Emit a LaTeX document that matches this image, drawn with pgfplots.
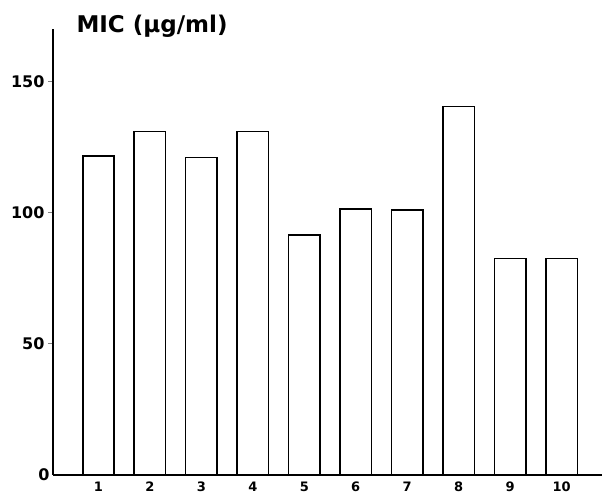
\documentclass[border=0pt]{standalone}
\usepackage{fontspec}
\setmainfont{DejaVu Sans}
\usepackage{pgfplots}
\pgfplotsset{compat=1.18}
\begin{document}
\begin{tikzpicture}
\useasboundingbox (-53pt,-19pt) rectangle (549pt,475pt);
\begin{axis}[
  at={(0pt,0pt)}, anchor=south west,
  scale only axis, width=549pt, height=446pt,
  xmin=0.116, xmax=10.786, ymin=0, ymax=170,
  axis x line*=bottom, axis y line*=left,
  axis line style={line width=1.6pt},
  xtick={1,...,10}, xtick style={draw=none},
  ytick={50,100,150},
  extra y ticks={0}, extra y tick style={major tick length=0pt},
  tick align=outside, major tick length=5pt,
  ytick style={line width=1.2pt},
  yticklabel style={font=\fontsize{16}{16}\selectfont\bfseries},
  xticklabel style={font=\fontsize{13}{13}\selectfont\bfseries, inner sep=0.5pt, yshift=-1pt},
  /pgf/number format/assume math mode=true,
  ybar, bar width=31.5pt,
]
\addplot[draw=black, fill=white, line width=1.6pt] coordinates {
  (1,121.5) (2,131) (3,121) (4,131) (5,91.5)
  (6,101.5) (7,101) (8,140.5) (9,82.5) (10,82.5)
};
\end{axis}
\node[anchor=base west, font=\fontsize{23}{23}\selectfont\bfseries] at (20pt,442pt) {MIC (µg/ml)};
\end{tikzpicture}
\end{document}
